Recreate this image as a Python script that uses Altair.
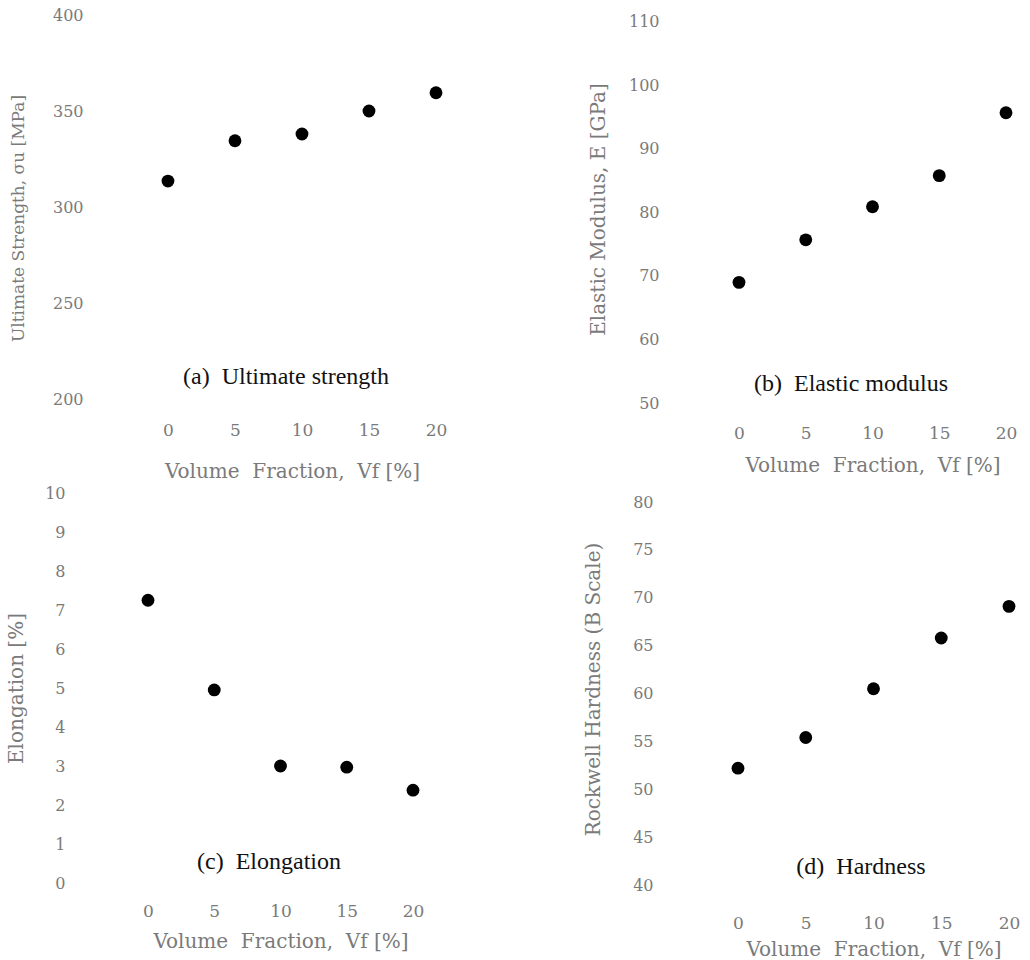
import altair as alt
import pandas as pd

# ---- data ----
vf = [0, 5, 10, 15, 20]
strength = [313.5, 334.5, 338.0, 350.0, 359.5]      # Ultimate strength [MPa]
modulus = [69.0, 75.7, 80.9, 85.8, 95.7]           # Elastic modulus [GPa]
elongation = [7.25, 4.95, 3.0, 2.97, 2.38]          # Elongation [%]
hardness = [52.2, 55.4, 60.5, 65.8, 69.1]           # Rockwell hardness (B scale)

x_ticks = [0, 5, 10, 15, 20]
ticks_a = [200, 250, 300, 350, 400]
ticks_b = [50, 60, 70, 80, 90, 100, 110]
ticks_c = [0, 1, 2, 3, 4, 5, 6, 7, 8, 9, 10]
ticks_d = [40, 45, 50, 55, 60, 65, 70, 75, 80]

NB = "\u00a0"
x_title = f"Volume{NB}{NB}Fraction,{NB}{NB}Vf{NB}[%]"

GRAY = "#7a7a7a"
FONT = "DejaVu Serif"


def panel(yvals, xdom, ydom, yticks, ytitle, subtitle, w, h,
          ylabpad, ytitlepad, ytitlesize, xlabpad, xtitlepad, sx, sy,
          ytitle_y=None):
    df = pd.DataFrame({"vf": vf, "val": yvals})
    yaxis_kw = dict(values=yticks, title=ytitle, labelPadding=ylabpad,
                    titlePadding=ytitlepad, labelFontSize=16,
                    titleFontSize=ytitlesize, labelFlush=False)
    if ytitle_y is not None:
        yaxis_kw["titleY"] = ytitle_y
    pts = alt.Chart(df).mark_circle(size=165, color="black", opacity=1).encode(
        x=alt.X("vf:Q", scale=alt.Scale(domain=xdom, nice=False, zero=False),
                axis=alt.Axis(values=x_ticks, title=x_title, labelPadding=xlabpad,
                              titlePadding=xtitlepad, labelFontSize=17,
                              titleFontSize=20, labelFlush=False)),
        y=alt.Y("val:Q", scale=alt.Scale(domain=ydom, nice=False, zero=False),
                axis=alt.Axis(**yaxis_kw)),
    )
    sub = alt.Chart(pd.DataFrame({"t": [subtitle]})).mark_text(
        font="Liberation Serif", fontSize=24, color="#111111", align="center",
        baseline="middle"
    ).encode(text="t:N", x=alt.value(sx), y=alt.value(sy))
    return alt.layer(pts, sub).properties(width=w, height=h)


a = panel(strength, [-1.49, 20], [200, 400], ticks_a, "Ultimate Strength, σu [MPa]",
          f"(a){NB}{NB}Ultimate strength", 288, 384,
          65, 25, 17, 23, 23, 138, 362, ytitle_y=203)
b = panel(modulus, [0, 20], [50, 111.1], ticks_b, "Elastic Modulus, E [GPa]",
          f"(b){NB}{NB}Elastic modulus", 267, 388,
          80, 20, 20, 22, 14, 112, 369)
c = panel(elongation, [0, 20], [0, 10], ticks_c, "Elongation [%]",
          f"(c){NB}{NB}Elongation", 265, 390,
          83, 18, 20, 20, 12, 121, 369)
d = panel(hardness, [0, 20], [40, 80.94], ticks_d, "Rockwell Hardness (B Scale)",
          f"(d){NB}{NB}Hardness", 271, 392,
          85, 29, 20, 30, 8, 123, 374)

top = alt.hconcat(a, b, spacing=141)
bottom = alt.hconcat(c, d, spacing=159)

chart = alt.vconcat(top, bottom, spacing=4).properties(
    padding={"left": 6, "top": 7, "right": 0, "bottom": 0},
    background="white",
).configure_view(stroke=None).configure_axis(
    domain=False, ticks=False, grid=False,
    labelFont=FONT, labelColor=GRAY, titleFont=FONT, titleColor=GRAY,
    titleFontWeight="normal",
)

chart.save("out.html", embed_options={"renderer": "svg", "actions": False})
